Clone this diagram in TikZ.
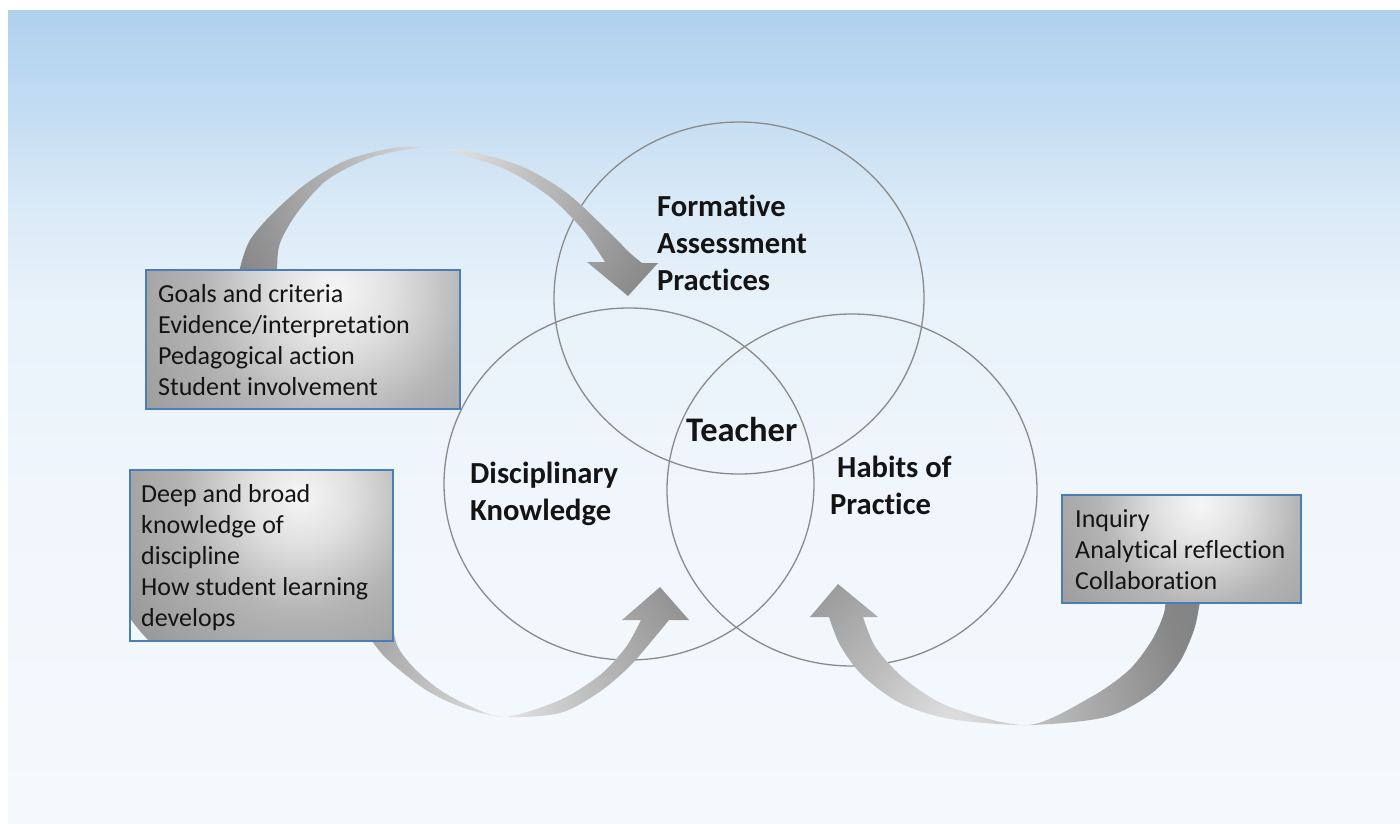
\documentclass[tikz,border=0pt]{standalone}
\usepackage{fontspec}
\setmainfont{Carlito}[Ligatures=NoCommon]
\usetikzlibrary{shapes.geometric}

% sky background
\definecolor{skyA}{HTML}{AFD1EE}
\definecolor{skyB}{HTML}{C3DCF2}
\definecolor{skyC}{HTML}{DAEAF7}
\definecolor{skyD}{HTML}{E8F2FA}
\definecolor{skyE}{HTML}{F0F6FC}
\definecolor{skyF}{HTML}{F4F9FD}
% boxes, rings, arrows
\definecolor{glA}{HTML}{F6F6F6}
\definecolor{glB}{HTML}{E0E0E0}
\definecolor{glC}{HTML}{B4B4B4}
\definecolor{glD}{HTML}{999999}
\definecolor{arA}{HTML}{E2E2E2}
\definecolor{arB}{HTML}{BBBBBB}
\definecolor{arC}{HTML}{878787}
\definecolor{arD}{HTML}{727272}
\definecolor{boxblue}{HTML}{4A7EBB}
\definecolor{ringgray}{HTML}{8A8A8A}
\definecolor{ink}{HTML}{141414}

% the path's bounding box spans 25bp..75bp of a linear shading
\pgfdeclareverticalshading{sky}{100bp}{color(0bp)=(skyF); color(25bp)=(skyF);
  color(45bp)=(skyE); color(57bp)=(skyD); color(63bp)=(skyC); color(69bp)=(skyB);
  color(75bp)=(skyA); color(100bp)=(skyA)}
% the circle's radius is 25bp of a radial shading
\pgfdeclareradialshading{glare}{\pgfpoint{0bp}{0bp}}{color(0bp)=(glA);
  color(6bp)=(glB); color(14bp)=(glC); color(25bp)=(glD); color(50bp)=(glD)}
\pgfdeclareradialshading{arrowglow}{\pgfpoint{0bp}{0bp}}{color(0bp)=(arA);
  color(6bp)=(arB); color(15bp)=(arC); color(25bp)=(arD); color(50bp)=(arD)}

\tikzset{
  ring/.style={draw=ringgray, line width=1.3pt, ellipse, inner sep=0pt,
    minimum width=370pt, minimum height=352pt},
  infobox/.style={draw=boxblue, line width=1.5pt, inner sep=0pt, anchor=north west},
  boxtext/.style={font=\fontsize{26}{31}\selectfont, text=ink, inner sep=0pt, anchor=base west},
  ringlabel/.style={font=\bfseries\fontsize{30.6}{37}\selectfont, text=ink, inner sep=0pt, anchor=base west},
}

\begin{document}
\begin{tikzpicture}[x=1pt, y=-1pt]
\useasboundingbox (0,0) rectangle (1400,824);

% background
\shade[shading=sky] (8,11) rectangle (1400,824);

% the three overlapping rings
\node[ring] (fap) at (739,298) {};
\node[ring] (dk)  at (629,484) {};
\node[ring] (hp)  at (852,490) {};

% curved arrow: goals box -> formative assessment
\coordinate (a1glow) at (450,150);
\begin{scope}
  \clip plot[smooth] coordinates {(240,282) (240,268) (250,240) (273,213) (307,183)
        (347,160) (393,148) (427,147) (473,152) (523,167) (567,193) (607,230) (630,253) (642,263)}
    -- (658,263) -- (628,296) -- (587,262)
    -- plot[smooth] coordinates {(605,262) (583,230) (550,197) (507,170) (457,153) (427,147)
        (373,157) (327,180) (297,213) (280,243) (277,268) (277,282)} -- cycle;
  \shade[shading=arrowglow] (a1glow) circle [radius=400pt];
\end{scope}

% curved arrow: knowledge box -> disciplinary knowledge
\coordinate (a2glow) at (505,717);
\begin{scope}
  \clip plot[smooth] coordinates {(352,615) (371,640) (388,660) (426,690) (464,708) (505,717)
        (560,713) (598,693) (629,667) (655,637) (669,620)}
    -- (689,620) -- (660,587) -- (622,620)
    -- plot[smooth] coordinates {(641,620) (626,647) (600,675) (560,700) (505,717)
        (470,706) (440,690) (414,668) (397,645) (391,615)} -- cycle;
  \shade[shading=arrowglow] (a2glow) circle [radius=400pt];
\end{scope}

% curved arrow: habits box -> habits of practice
\coordinate (a3glow) at (950,728);
\begin{scope}
  \clip plot[smooth] coordinates {(1203,590) (1200,602) (1194,630) (1179,663) (1152,693)
        (1106,717) (1028,725) (950,719) (900,703) (862,675) (840,645) (829,617)}
    -- (810,617) -- (838,584) -- (878,617)
    -- plot[smooth] coordinates {(863,617) (876,648) (906,680) (950,707) (1028,725)
        (1091,697) (1129,670) (1152,640) (1164,613) (1166,590)} -- cycle;
  \shade[shading=arrowglow] (a3glow) circle [radius=400pt];
\end{scope}

% metallic text boxes
\begin{scope}
  \clip (145,269) rectangle (459,408);
  \shade[shading=glare] (335,290) circle [radius=240pt];
\end{scope}
\node[infobox, minimum width=314pt, minimum height=139pt] (goals) at (145,269) {};

\begin{scope}
  \clip (129,469) rectangle (392,640);
  \shade[shading=glare] (300,495) circle [radius=210pt];
\end{scope}
\node[infobox, minimum width=263pt, minimum height=171pt] (know) at (129,469) {};

\begin{scope}
  \clip (1061,494) rectangle (1300,602);
  \shade[shading=glare] (1200,505) circle [radius=180pt];
\end{scope}
\node[infobox, minimum width=239pt, minimum height=108pt] (habits) at (1061,494) {};

% box texts
\node[boxtext] (goalst) at (158,302) {\begin{tabular}[t]{@{}l@{}}Goals and criteria\\
  Evidence/interpretation\\ Pedagogical action\\ Student involvement\end{tabular}};
\node[boxtext] (knowt) at (141,502) {\begin{tabular}[t]{@{}l@{}}Deep and broad\\
  knowledge of\\ discipline\\ How student learning\\ develops\end{tabular}};
\node[boxtext] (habitst) at (1075,527) {\begin{tabular}[t]{@{}l@{}}Inquiry\\
  Analytical reflection\\ Collaboration\end{tabular}};

% ring labels
\node[ringlabel] (fapl) at (657,216) {\begin{tabular}[t]{@{}l@{}}Formative\\
  Assessment\\ Practices\end{tabular}};
\node[ringlabel, font=\bfseries\fontsize{34.5}{41}\selectfont] (teacher) at (686,441) {Teacher};
\node[ringlabel] (dkl) at (470,483) {\begin{tabular}[t]{@{}l@{}}Disciplinary\\
  Knowledge\end{tabular}};
\node[ringlabel] (hpl) at (830,477) {\begin{tabular}[t]{@{}l@{}}\hspace*{7pt}Habits of\\
  Practice\end{tabular}};
\end{tikzpicture}
\end{document}
